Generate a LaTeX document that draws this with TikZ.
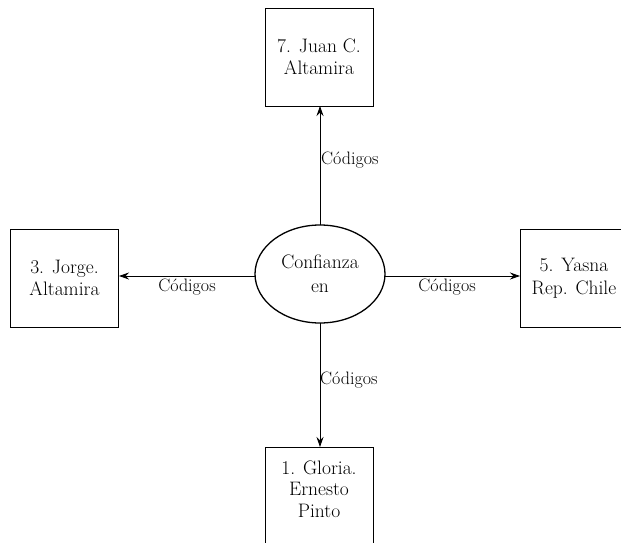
\documentclass[tikz,border=0pt]{standalone}
\usetikzlibrary{arrows.meta,shapes.geometric}
\begin{document}
\begin{tikzpicture}[x=1pt,y=-1pt,
  person/.style={draw, line width=0.8pt, minimum width=108pt, minimum height=98pt,
    align=center, inner sep=0pt, font=\fontsize{19.5}{22.5}\selectfont},
  caption/.style={align=center, inner sep=0pt, font=\fontsize{19.5}{21.5}\selectfont},
  core/.style={draw, ellipse, line width=1.3pt, minimum width=130pt, minimum height=98pt,
    align=center, inner sep=0pt, font=\fontsize{19.5}{24}\selectfont},
  link/.style={line width=0.8pt, -{Stealth[length=10pt,width=7pt]}},
  tag/.style={inner sep=0pt, font=\fontsize{18}{20}\selectfont}]
  \clip (0,0) rectangle (621,543);
  \useasboundingbox (0,0) rectangle (621,543);

  % central concept
  \node[core] (conf) at (320,274) {Confianza\\en};

  % participants
  \node[person] (juan)   at (319,57)  {7. Juan C.\\Altamira};
  \node[person] (jorge)  at (64.5,278) {3. Jorge.\\Altamira};
  \node[person] (yasna)  at (574,278) {5. Yasna\\Rep. Chile};
  \node[person, minimum height=110pt] (gloria) at (319,502) {};
  \node[caption] (gloriatext) at (319,489) {1. Gloria.\\Ernesto\\Pinto};

  % connectors
  \coordinate (cn) at (320,225);
  \coordinate (cs) at (320,323);
  \coordinate (jn) at (320,106);
  \coordinate (gn) at (320,447);
  \coordinate (cw) at (255,276);
  \coordinate (ce) at (385,276);
  \coordinate (je) at (119,276);
  \coordinate (yw) at (520,276);

  \draw[link] (cn) -- (jn);
  \draw[link] (cs) -- (gn);
  \draw[link] (cw) -- (je);
  \draw[link] (ce) -- (yw);

  % connector labels
  \node[tag, anchor=west] (ln) at (321,160) {Códigos};
  \node[tag, anchor=west] (ls) at (320,380) {Códigos};
  \node[tag] (lw) at (187,287) {Códigos};
  \node[tag] (le) at (447,287) {Códigos};
\end{tikzpicture}
\end{document}
